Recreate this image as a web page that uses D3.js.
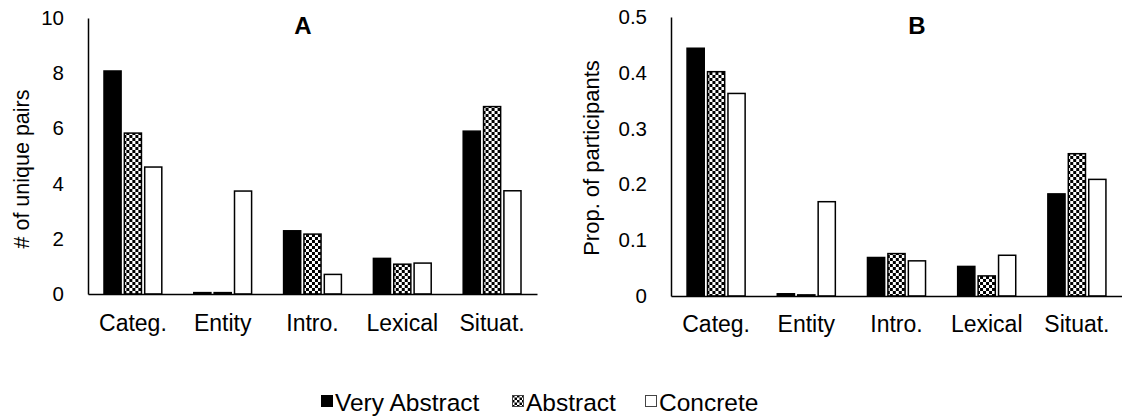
<!DOCTYPE html>
<html><head><meta charset="utf-8">
<script src="https://cdn.jsdelivr.net/npm/d3@7"></script>
<style>
html,body{margin:0;padding:0;background:#fff;}
svg{display:block;font-family:"Liberation Sans",Arial,Helvetica,sans-serif;}
</style></head>
<body>
<svg id="chart" width="1122" height="420"></svg>
<script>
const categories = ["Categ.", "Entity", "Intro.", "Lexical", "Situat."];
const seriesNames = ["Very Abstract", "Abstract", "Concrete"];
const pairsVeryAbstract = [8.08, 0.05, 2.29, 1.29, 5.90];
const pairsAbstract     = [5.83, 0.05, 2.17, 1.08, 6.79];
const pairsConcrete     = [4.60, 3.73, 0.71, 1.12, 3.74];
const propVeryAbstract  = [0.444, 0.004, 0.069, 0.053, 0.183];
const propAbstract      = [0.402, 0.002, 0.076, 0.036, 0.255];
const propConcrete      = [0.363, 0.169, 0.063, 0.073, 0.209];
const ticksA = [0, 2, 4, 6, 8, 10];
const ticksB = [0, 0.1, 0.2, 0.3, 0.4, 0.5];

const svg = d3.select("#chart");
const defs = svg.append("defs");
function checker(id, s) {
  const p = defs.append("pattern").attr("id", id).attr("patternUnits", "userSpaceOnUse")
    .attr("width", 2*s).attr("height", 2*s);
  p.append("rect").attr("width", 2*s).attr("height", 2*s).attr("fill", "#fff");
  p.append("rect").attr("width", s).attr("height", s).attr("fill", "#000");
  p.append("rect").attr("x", s).attr("y", s).attr("width", s).attr("height", s).attr("fill", "#000");
}
checker("chk", 3);
checker("chkLeg", 2.5);
const fills = ["#000", "url(#chk)", "#fff"];

function panel(cfg) {
  const g = svg.append("g");
  const x0 = d3.scaleBand().domain(categories).range([cfg.left, cfg.right])
    .paddingInner(0.32).paddingOuter(0.16);
  const x1 = d3.scaleBand().domain(seriesNames).range([0, x0.bandwidth()])
    .paddingInner(0.16).paddingOuter(0.08);
  const y = d3.scaleLinear().domain([0, cfg.max]).range([cfg.bottom, cfg.top]);

  const data = categories.map((c, i) => ({c, vals: cfg.series.map((s, j) => ({name: seriesNames[j], v: s[i], j}))}));
  const grp = g.selectAll("g.cat").data(data).join("g").attr("transform", d => `translate(${x0(d.c)},0)`);
  grp.selectAll("rect").data(d => d.vals).join("rect")
    .attr("x", d => x1(d.name)).attr("width", x1.bandwidth())
    .attr("y", d => y(d.v)).attr("height", d => y(0) - y(d.v))
    .attr("fill", d => fills[d.j]).attr("stroke", "#000").attr("stroke-width", 1.5);

  const ya = g.append("g").attr("transform", `translate(${cfg.left},0)`)
    .call(d3.axisLeft(y).tickValues(cfg.ticks).tickSize(0).tickPadding(24).tickFormat(cfg.fmt));
  ya.select(".domain").attr("stroke", "#000").attr("stroke-width", 1.5);
  ya.attr("font-family", null).attr("font-size", 20.5);
  ya.selectAll("text").attr("fill", "#000");

  const xa = g.append("g").attr("transform", `translate(0,${cfg.bottom})`)
    .call(d3.axisBottom(x0).tickSize(0).tickPadding(cfg.xpad));
  xa.select(".domain").attr("stroke", "#000").attr("stroke-width", 1.5);
  xa.attr("font-family", null).attr("font-size", 23);
  xa.selectAll("text").attr("fill", "#000");

  g.append("text").attr("x", cfg.titleX).attr("y", 34).attr("text-anchor", "middle")
    .attr("font-weight", "bold").attr("font-size", 24).text(cfg.title);
  g.append("text").attr("transform", `translate(${cfg.ylabX},${cfg.ylabY}) rotate(-90)`)
    .attr("text-anchor", "middle").attr("font-size", cfg.ylabSize).text(cfg.ylab);
}

panel({left: 88, right: 537, top: 18, bottom: 294, max: 10, ticks: ticksA,
  fmt: d3.format("d"), series: [pairsVeryAbstract, pairsAbstract, pairsConcrete],
  title: "A", titleX: 303, ylab: "# of unique pairs", ylabX: 29, ylabY: 169, ylabSize: 21.5, xpad: 21});
panel({left: 671, right: 1122, top: 17, bottom: 296, max: 0.5, ticks: ticksB,
  fmt: d => d === 0 ? "0" : d3.format(".1f")(d), series: [propVeryAbstract, propAbstract, propConcrete],
  title: "B", titleX: 917, ylab: "Prop. of participants", ylabX: 599, ylabY: 158, ylabSize: 22, xpad: 20});

// legend
const legFills = ["#000", "url(#chkLeg)", "#fff"];
const legStarts = [321, 512, 645];
const leg = svg.append("g");
seriesNames.forEach((n, i) => {
  const it = leg.append("g").attr("transform", `translate(${legStarts[i]},0)`);
  it.append("rect").attr("x", 0.5).attr("y", 395.5).attr("width", 11).attr("height", 11)
    .attr("fill", legFills[i]).attr("stroke", i === 0 ? "#000" : "#444").attr("stroke-width", 1);
  it.append("text").attr("x", 14).attr("y", 411).attr("font-size", 24.5).text(n);
});
</script>
</body></html>
